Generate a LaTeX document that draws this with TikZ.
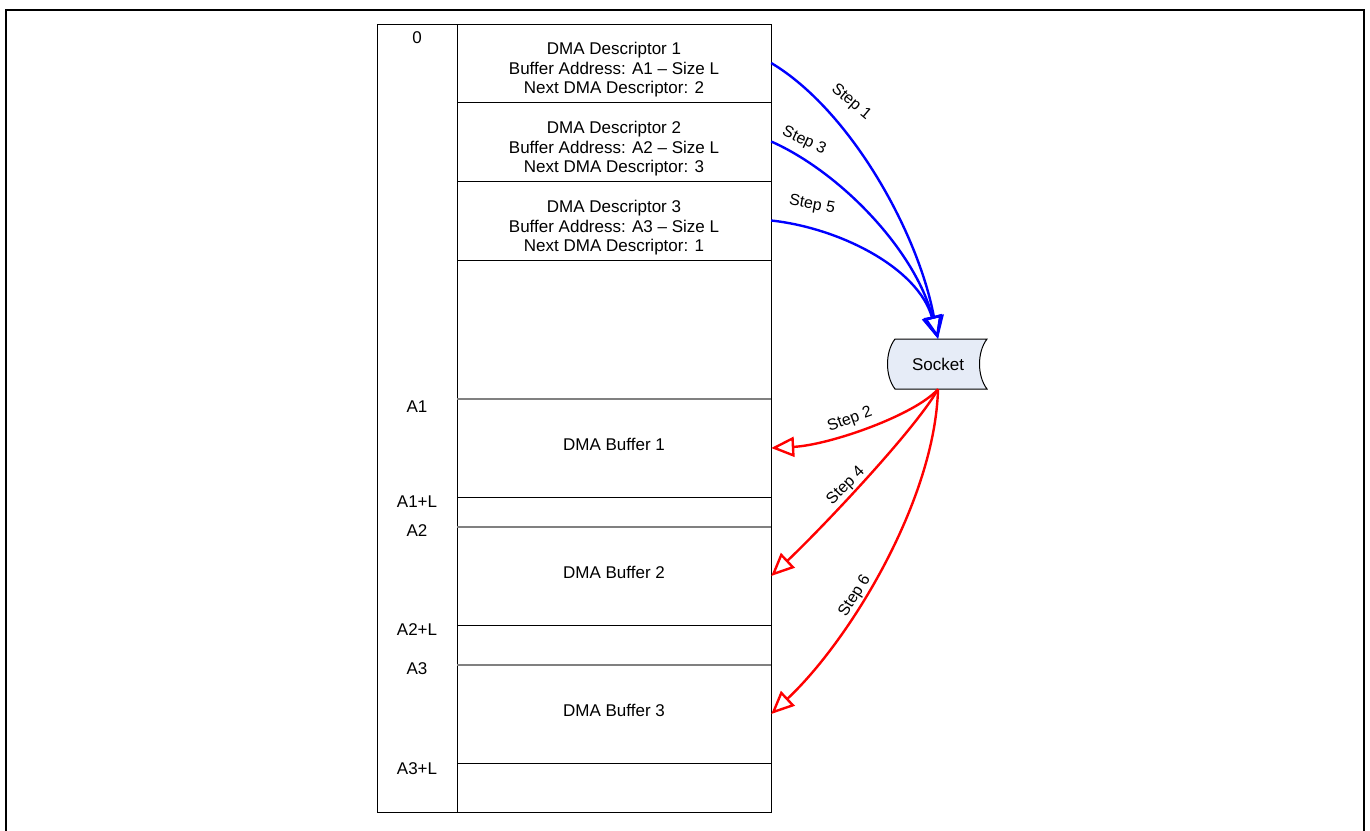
\documentclass[tikz,border=0pt]{standalone}
\usepackage{fontspec}
\setmainfont{Liberation Sans}
\usetikzlibrary{arrows.meta}
\definecolor{sockfill}{HTML}{E6ECF7}
\definecolor{midgray}{HTML}{808080}
\begin{document}
\begin{tikzpicture}[x=1pt,y=-1pt,
  txt/.style={font=\fontsize{17}{19.5}\selectfont, align=center, inner sep=0pt},
  addr/.style={font=\fontsize{17}{19.5}\selectfont, inner sep=0pt},
  steplbl/.style={font=\fontsize{16}{18}\selectfont, inner sep=0pt},
  cell/.style={minimum width=314pt, inner sep=0pt, draw=none},
  thinline/.style={draw=black, line width=1pt},
  grayline/.style={draw=midgray, line width=1.2pt},
  bluearr/.style={draw=blue, line width=2.4pt, -{Triangle[open, length=23pt, width=20pt]}},
  redarr/.style={draw=red, line width=2.4pt, -{Triangle[open, length=23pt, width=20pt]}},
]
\useasboundingbox (0,0) rectangle (1370,830);
% outer frame (bottom edge lies outside the picture)
\draw[line width=2.6pt] (6,832) -- (6,10) -- (1364,10) -- (1364,832);

% columns
\draw[thinline] (377,24) rectangle (771,812);
\draw[thinline] (457,24) -- (457,812);

% horizontal lines in the right column
\draw[thinline] (457,102) -- (771,102);
\draw[thinline] (457,181) -- (771,181);
\draw[thinline] (457,260) -- (771,260);
\draw[grayline] (457,399) -- (771,399);
\draw[thinline] (457,497) -- (771,497);
\draw[grayline] (457,527) -- (771,527);
\draw[thinline] (457,625) -- (771,625);
\draw[grayline] (457,665) -- (771,665);
\draw[thinline] (457,763) -- (771,763);

% cells (anchors for connectors)
\node[cell, minimum height=78pt] (d1) at (614,63) {};
\node[cell, minimum height=79pt] (d2) at (614,141.5) {};
\node[cell, minimum height=79pt] (d3) at (614,220.5) {};
\node[cell, minimum height=98pt] (b1) at (614,448) {};
\node[cell, minimum height=98pt] (b2) at (614,576) {};
\node[cell, minimum height=98pt] (b3) at (614,714) {};

% cell texts
\node[txt] (d1t) at (614,70) {DMA Descriptor 1\\Buffer Address: A1 -- Size L\\Next DMA Descriptor: 2};
\node[txt] (d2t) at (614,149) {DMA Descriptor 2\\Buffer Address: A2 -- Size L\\Next DMA Descriptor: 3};
\node[txt] (d3t) at (614,228) {DMA Descriptor 3\\Buffer Address: A3 -- Size L\\Next DMA Descriptor: 1};
\node[txt] (b1t) at (614,444) {DMA Buffer 1};
\node[txt] (b2t) at (614,572) {DMA Buffer 2};
\node[txt] (b3t) at (614,710) {DMA Buffer 3};

% address labels
\node[addr] (a0) at (417,38) {0};
\node[addr] (a1) at (417,407) {A1};
\node[addr] (a1l) at (417,502) {A1+L};
\node[addr] (a2) at (417,531) {A2};
\node[addr] (a2l) at (417,630) {A2+L};
\node[addr] (a3) at (417,669) {A3};
\node[addr] (a3l) at (417,769) {A3+L};

% socket
\draw[fill=sockfill, draw=black, line width=1pt]
  (895,339) -- (987,339) .. controls (977,352) and (977,376) .. (987,389)
  -- (895,389) .. controls (885,376) and (885,352) .. (895,339) -- cycle;
\node[cell, minimum width=97pt, minimum height=50pt, font=\fontsize{17}{19.5}\selectfont] (sock) at (938,364) {Socket};

% blue arrows: descriptors -> socket
\draw[bluearr] (d1.east) .. controls (850,110) and (918,232) .. (sock.north);
\draw[bluearr] (d2.east) .. controls (840,172) and (915,250) .. (sock.north);
\draw[bluearr] (d3.east) .. controls (840,228) and (918,268) .. (sock.north);

% red arrows: socket -> buffers
\draw[redarr] (sock.south) .. controls (915,415) and (830,445) .. (b1.east);
\draw[redarr] (sock.south) .. controls (915,430) and (820,530) .. (b2.east);
\draw[redarr] (sock.south) .. controls (935,500) and (850,640) .. (b3.east);

% step labels
\node[steplbl, rotate=-40] (s1) at (851,102) {Step 1};
\node[steplbl, rotate=-25] (s3) at (804,141) {Step 3};
\node[steplbl, rotate=-10] (s5) at (812,205) {Step 5};
\node[steplbl, rotate=20] (s2) at (850,420) {Step 2};
\node[steplbl, rotate=45] (s4) at (846,486) {Step 4};
\node[steplbl, rotate=58] (s6) at (855,596) {Step 6};
\end{tikzpicture}
\end{document}
